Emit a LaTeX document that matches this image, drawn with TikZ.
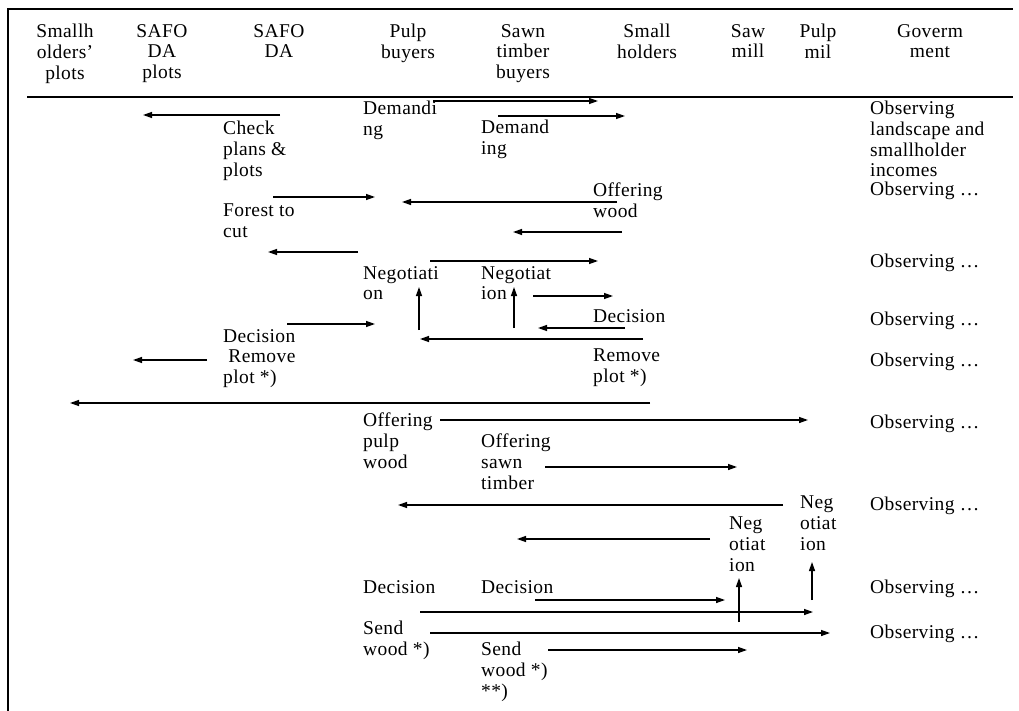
\documentclass[tikz,border=0pt]{standalone}
\usepackage{fontspec}
\setmainfont{Liberation Serif}[LetterSpace=2]
\usetikzlibrary{arrows.meta}

\tikzset{
	cell/.style={anchor=north west, align=left, inner sep=0pt,
		font=\fontsize{19.5}{20.7}\selectfont, execute at begin node=\strut},
	head/.style={anchor=north, align=center, inner sep=0pt,
		font=\fontsize{19.5}{20.7}\selectfont, execute at begin node=\strut},
	flow/.style={-{Triangle[length=9pt,width=6pt]}, line width=1.3pt},
	rule/.style={line width=1.6pt},
}

\begin{document}
\begin{tikzpicture}[x=1pt, y=-1pt]
	\useasboundingbox (0,0) rectangle (1019,711);
	% frame and header rule
	\draw[line width=2.2pt] (8,711) -- (8,9) -- (1013,9);
	\draw[rule] (27,97) -- (1013,97);

	% column heads
	\node[head] (hOwner) at (65,24) {Smallh\\olders'\\plots};
	\node[head] (hPlots) at (162,24) {SAFO\\DA\\plots};
	\node[head] (hSafo) at (279,24) {SAFO\\DA};
	\node[head] (hPulpBuy) at (408,24) {Pulp\\buyers};
	\node[head] (hSawnBuy) at (523,24) {Sawn\\timber\\buyers};
	\node[head] (hHolders) at (647,24) {Small\\holders};
	\node[head] (hSawMill) at (748,24) {Saw\\mill};
	\node[head] (hPulpMill) at (818,24) {Pulp\\mil};
	\node[head] (hGov) at (930,24) {Goverm\\ment};

	% cells
	\node[cell] (demPulp) at (363,101) {Demandi\\ng};
	\node[cell] (demSawn) at (481,120) {Demand\\ing};
	\node[cell] (check) at (223,121) {Check\\plans \&\\plots};
	\node[cell] (obsLand) at (870,101) {Observing\\landscape and\\smallholder\\incomes};
	\node[cell] (obsA) at (870,181) {Observing …};
	\node[cell] (offerWood) at (593,183) {Offering\\wood};
	\node[cell] (forest) at (223,204) {Forest to\\cut};
	\node[cell] (obsB) at (870,253) {Observing …};
	\node[cell] (negPulp) at (363,266) {Negotiati\\on};
	\node[cell] (negSawn) at (481,266) {Negotiat\\ion};
	\node[cell] (decHolder) at (593,308) {Decision};
	\node[cell] (obsC) at (870,311) {Observing …};
	\node[cell] (decSafo) at (223,329) {Decision\\\ Remove\\plot *)};
	\node[cell] (remHolder) at (593,349) {Remove\\plot *)};
	\node[cell] (obsD) at (870,352) {Observing …};
	\node[cell] (offerPulp) at (363,413) {Offering\\pulp\\wood};
	\node[cell] (obsE) at (870,414) {Observing …};
	\node[cell] (offerSawn) at (481,434) {Offering\\sawn\\timber};
	\node[cell] (negPulpMill) at (800,496) {Neg\\otiat\\ion};
	\node[cell] (obsF) at (870,496) {Observing …};
	\node[cell] (negSawMill) at (729,517) {Neg\\otiat\\ion};
	\node[cell] (decPulp) at (363,579) {Decision};
	\node[cell] (decSawn) at (481,579) {Decision};
	\node[cell] (obsG) at (870,579) {Observing …};
	\node[cell] (sendPulp) at (363,621) {Send\\wood *)};
	\node[cell] (obsH) at (870,624) {Observing …};
	\node[cell] (sendSawn) at (481,642) {Send\\wood *)\\**)};

	% message arrows
	\draw[flow] (280,115) -- (143,115);
	\draw[flow] (433,101) -- (598,101);
	\draw[flow] (498,116) -- (625,116);
	\draw[flow] (273,197) -- (375,197);
	\draw[flow] (617,202) -- (402,202);
	\draw[flow] (622,232) -- (513,232);
	\draw[flow] (358,252) -- (268,252);
	\draw[flow] (430,261) -- (598,261);
	\draw[flow] (419,330) -- (419,287);
	\draw[flow] (514,328) -- (514,287);
	\draw[flow] (533,296) -- (613,296);
	\draw[flow] (287,324) -- (375,324);
	\draw[flow] (625,328) -- (538,328);
	\draw[flow] (643,339) -- (420,339);
	\draw[flow] (207,360) -- (133,360);
	\draw[flow] (650,403) -- (70,403);
	\draw[flow] (440,420) -- (808,420);
	\draw[flow] (545,467) -- (737,467);
	\draw[flow] (783,505) -- (398,505);
	\draw[flow] (710,539) -- (517,539);
	\draw[flow] (812,600) -- (812,562);
	\draw[flow] (739,622) -- (739,578);
	\draw[flow] (535,600) -- (725,600);
	\draw[flow] (420,612) -- (813,612);
	\draw[flow] (430,633) -- (830,633);
	\draw[flow] (548,650) -- (747,650);
\end{tikzpicture}
\end{document}
